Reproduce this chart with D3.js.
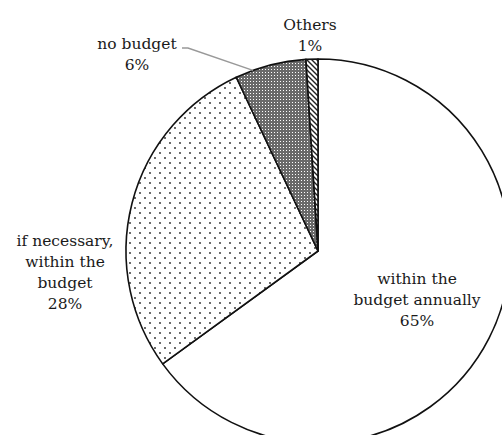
<!DOCTYPE html>
<html>
  <head>
    <meta charset="utf-8">
    <script src="https://d3js.org/d3.v7.min.js"></script>
    <style>
      body { margin: 0; background: #fff; }
      text { font-family: "DejaVu Serif", serif; font-size: 15.5px; fill: #1a1a1a; }
    </style>
  </head>
  <body>
    <div id="container"></div>
    <script>
      // DATA
      const categories = ["within the budget annually", "if necessary, within the budget", "no budget", "Others"];
      const shares = [65, 28, 6, 1];
      const labelLines = [
        ["within the", "budget annually", "65%"],
        ["if necessary,", "within the", "budget", "28%"],
        ["no budget", "6%"],
        ["Others", "1%"]
      ];

      const width = 502, height = 435;
      const cx = 318, cy = 251, radius = 192;

      const svg = d3.select("#container")
        .append("svg")
        .attr("width", width)
        .attr("height", height);

      // PATTERNS
      const defs = svg.append("defs");

      const dots = defs.append("pattern")
        .attr("id", "dots")
        .attr("patternUnits", "userSpaceOnUse")
        .attr("width", 10).attr("height", 10);
      dots.append("rect").attr("width", 10).attr("height", 10).attr("fill", "#fff");
      dots.append("circle").attr("cx", 2).attr("cy", 2).attr("r", 0.9).attr("fill", "#222");
      dots.append("circle").attr("cx", 7).attr("cy", 7).attr("r", 0.9).attr("fill", "#222");

      const grid = defs.append("pattern")
        .attr("id", "grid")
        .attr("patternUnits", "userSpaceOnUse")
        .attr("width", 3).attr("height", 3);
      grid.append("rect").attr("width", 3).attr("height", 3).attr("fill", "#6a6a6a");
      grid.append("rect").attr("x", 1).attr("y", 1).attr("width", 1).attr("height", 1).attr("fill", "#fff");

      const hatch = defs.append("pattern")
        .attr("id", "hatch")
        .attr("patternUnits", "userSpaceOnUse")
        .attr("width", 5).attr("height", 5);
      hatch.append("rect").attr("width", 5).attr("height", 5).attr("fill", "#fff");
      hatch.append("path").attr("d", "M-1,-1 L6,6 M-1,4 L1,6 M4,-1 L6,1")
        .attr("stroke", "#222").attr("stroke-width", 1.4);

      const fills = ["#fff", "url(#dots)", "url(#grid)", "url(#hatch)"];

      // PIE
      const pie = d3.pie().sort(null).value(d => d);
      const arcs = pie(shares);
      const arc = d3.arc().innerRadius(0).outerRadius(radius);

      const g = svg.append("g").attr("transform", "translate(" + cx + "," + cy + ")");

      g.selectAll("path.slice")
        .data(arcs)
        .enter()
        .append("path")
        .attr("class", "slice")
        .attr("d", arc)
        .attr("fill", (d, i) => fills[i])
        .attr("stroke", "#111")
        .attr("stroke-width", 1.6)
        .attr("stroke-linejoin", "round");

      // LABELS (anchor = centre of first line)
      const anchors = [[417, 279], [65, 241], [137, 44], [310, 25]];
      const lineH = 21;

      labelLines.forEach((lines, i) => {
        const t = svg.append("text")
          .attr("text-anchor", "middle")
          .attr("x", anchors[i][0])
          .attr("y", anchors[i][1]);
        lines.forEach((s, k) => {
          t.append("tspan")
            .attr("x", anchors[i][0])
            .attr("dy", k === 0 ? "0.35em" : lineH)
            .text(s);
        });
      });

      // LEADER LINE for "no budget"
      const a = arcs[2].startAngle + (arcs[2].endAngle - arcs[2].startAngle) * 0.25;
      const px = cx + radius * Math.sin(a), py = cy - radius * Math.cos(a);
      svg.append("polyline")
        .attr("points", [[182, 48], [188, 48], [px, py]].map(p => p.join(",")).join(" "))
        .attr("fill", "none")
        .attr("stroke", "#999")
        .attr("stroke-width", 1.5);
    </script>
  </body>
</html>
